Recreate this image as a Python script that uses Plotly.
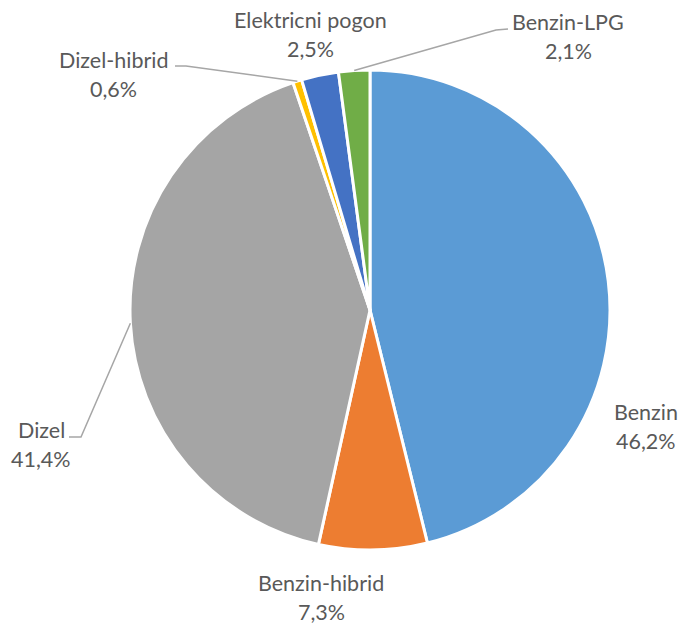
import math
import plotly.graph_objects as go

W, H = 680, 626

categories = ["Benzin", "Benzin-hibrid", "Dizel", "Dizel-hibrid", "Elektricni pogon", "Benzin-LPG"]
values = [46.2, 7.3, 41.4, 0.6, 2.5, 2.1]
colors = ["#5B9BD5", "#ED7D31", "#A5A5A5", "#FFC000", "#4472C4", "#70AD47"]

# label centres (pixels) for the two text lines: name, percentage
label_pos = {
    "Benzin": (646, 412),
    "Benzin-hibrid": (321, 583),
    "Dizel": (41, 430),
    "Dizel-hibrid": (114, 60),
    "Elektricni pogon": (310, 20),
    "Benzin-LPG": (568, 22),
}
line_gap = 29

CX, CY, R = 370, 310, 240

def px(x):
    return x / W

def py(y):
    return 1 - y / H

fig = go.Figure(go.Pie(
    labels=categories, values=values, sort=False, direction="clockwise", rotation=0,
    marker=dict(colors=colors, line=dict(color="white", width=3)),
    textinfo="none", hoverinfo="label+percent", showlegend=False,
    domain=dict(x=[px(CX - R), px(CX + R)], y=[py(CY + R), py(CY - R)]),
))

font = dict(family="Lato, Carlito, Calibri, sans-serif", size=21.5, color="#595959")
annotations = []
for cat, v in zip(categories, values):
    x, y = label_pos[cat]
    annotations.append(dict(x=px(x), y=py(y), xref="paper", yref="paper", text=cat,
                            showarrow=False, font=font, xanchor="center", yanchor="middle"))
    annotations.append(dict(x=px(x), y=py(y + line_gap), xref="paper", yref="paper",
                            text=f"{v:.1f}".replace(".", ",") + "%",
                            showarrow=False, font=font, xanchor="center", yanchor="middle"))

# leader lines: start at the slice's mid-angle on the pie edge
total = sum(values)
cum = 0
mid = {}
for cat, v in zip(categories, values):
    a = (cum + v / 2) / total * 2 * math.pi
    mid[cat] = (CX + R * math.sin(a), CY - R * math.cos(a))
    cum += v

leaders = {
    "Dizel": [(69, 437), (81, 437)],
    "Dizel-hibrid": [(175, 66), (186, 66)],
    "Benzin-LPG": [(508, 29), (496, 30)],
}
shapes = []
for cat, pts in leaders.items():
    pts = pts + [mid[cat]]
    path = "M " + " L ".join(f"{px(x)},{py(y)}" for x, y in pts)
    shapes.append(dict(type="path", path=path, xref="paper", yref="paper",
                       line=dict(color="#A6A6A6", width=1.5)))

fig.update_layout(
    width=W, height=H, margin=dict(l=0, r=0, t=0, b=0),
    paper_bgcolor="white", plot_bgcolor="white",
    annotations=annotations, shapes=shapes,
)
fig.write_html("out.html", config={"displayModeBar": False},
               post_script="document.body.style.margin='0';document.body.style.overflow='hidden';")
